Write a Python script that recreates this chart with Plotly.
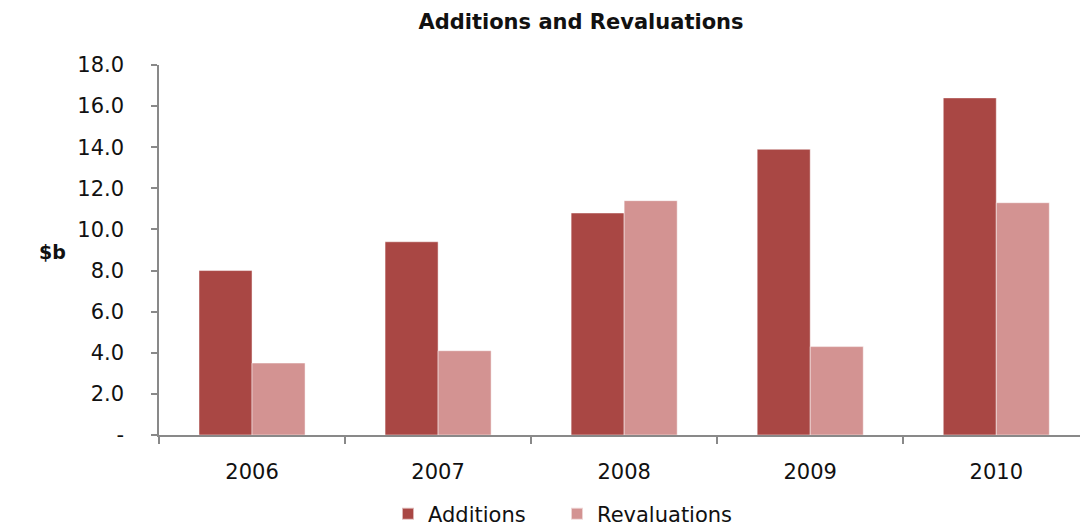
import plotly.graph_objects as go

# Annual figures, $ billions
years = ["2006", "2007", "2008", "2009", "2010"]
additions = [8.0, 9.4, 10.8, 13.9, 16.4]
revaluations = [3.5, 4.1, 11.4, 4.3, 11.3]

y_ticks = [0, 2, 4, 6, 8, 10, 12, 14, 16, 18]
y_tick_text = ["-"] + [f"{v:.1f}" for v in y_ticks[1:]]

FONT = "DejaVu Sans"
AXIS_GREY = "#898989"

fig = go.Figure()
fig.add_trace(go.Bar(
    name="Additions", x=years, y=additions, legend="legend",
    marker=dict(color="#A94744", line=dict(color="rgba(255,255,255,0.6)", width=0.8)),
))
fig.add_trace(go.Bar(
    name="Revaluations", x=years, y=revaluations, legend="legend2",
    marker=dict(color="#D39392", line=dict(color="rgba(255,255,255,0.6)", width=0.8)),
))

legend_style = dict(
    orientation="h", xanchor="left", y=-0.2135, yanchor="middle",
    font=dict(family=FONT, size=21, color="#111111"),
    itemwidth=30, itemsizing="constant", bgcolor="rgba(0,0,0,0)",
)

fig.update_layout(
    width=1080, height=531,
    margin=dict(l=159, r=0, t=65, b=96, autoexpand=False),
    paper_bgcolor="white", plot_bgcolor="white",
    barmode="group", bargap=0.43, bargroupgap=0,
    font=dict(family=FONT, color="#111111", size=20),
    title=dict(
        text="<b>Additions and Revaluations</b>",
        x=581 / 1080, xref="container", xanchor="center",
        y=1 - 22 / 531, yref="container", yanchor="middle",
        font=dict(family=FONT, size=21, color="#111111"),
    ),
    legend=dict(x=(388 - 159) / 921, **legend_style),
    legend2=dict(x=(557 - 159) / 921, **legend_style),
    showlegend=True,
)

fig.update_xaxes(
    type="category", range=[-0.5, 4.45],
    showline=True, linecolor=AXIS_GREY, linewidth=1.5,
    ticks="outside", tickson="boundaries", ticklen=7, tickcolor=AXIS_GREY, tickwidth=1.5,
    showgrid=False, ticklabelstandoff=17,
    tickfont=dict(family=FONT, size=21, color="#111111"),
)
fig.update_yaxes(
    range=[0, 18], tickvals=y_ticks, ticktext=y_tick_text,
    showline=True, linecolor=AXIS_GREY, linewidth=1.5,
    ticks="outside", ticklen=6, tickcolor=AXIS_GREY, tickwidth=1.5,
    showgrid=False, zeroline=False, ticklabelstandoff=23,
    tickfont=dict(family=FONT, size=21, color="#111111"),
)

fig.add_annotation(
    text="<b>$b</b>", xref="paper", yref="paper",
    x=(52 - 159) / 921, y=(435 - 252) / 370,
    xanchor="center", yanchor="middle", showarrow=False,
    font=dict(family=FONT, size=19, color="#111111"),
)

fig.write_html("out.html")
